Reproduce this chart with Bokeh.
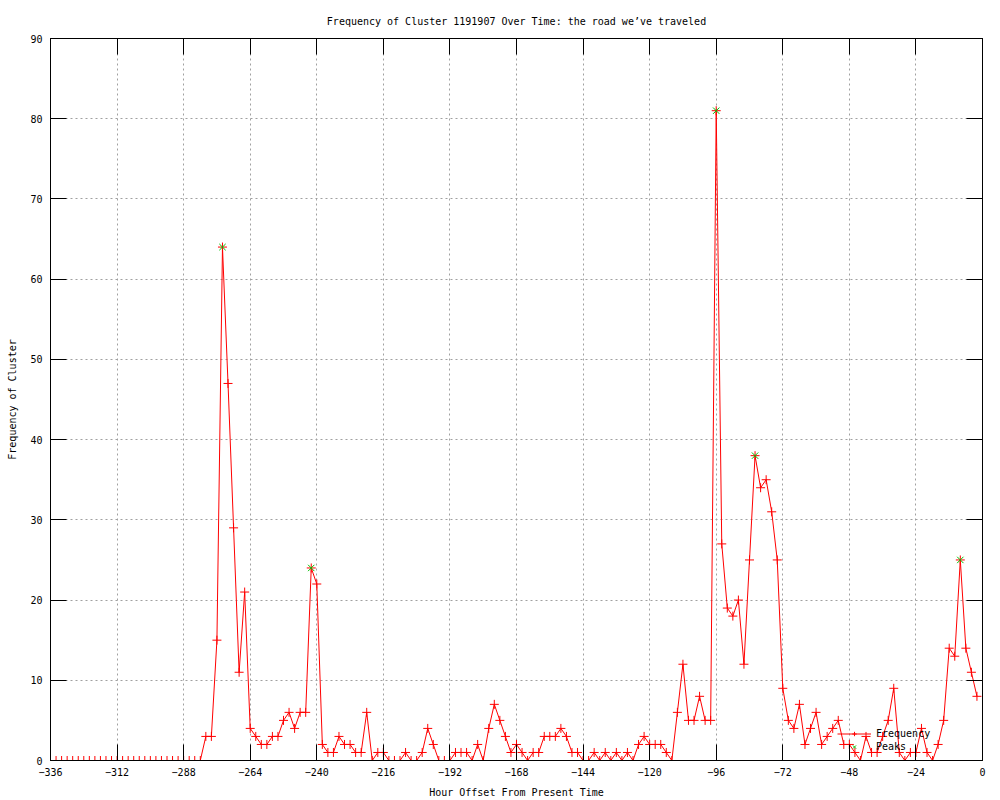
from bokeh.plotting import figure
from bokeh.models import (LinearAxis, FixedTicker, Legend, LegendItem, Range1d,
                          CustomJSTickFormatter)
from bokeh.embed import file_html
from bokeh.resources import INLINE

FONT = "DejaVu Sans Mono"

TITLE = "Frequency of Cluster 1191907 Over Time: the road we’ve traveled"
X_LABEL = "Hour Offset From Present Time"
Y_LABEL = "Frequency of Cluster"

hours = [
    -336, -334, -332, -330, -328, -326, -324, -322, -320, -318, -316, -314,
    -312, -310, -308, -306, -304, -302, -300, -298, -296, -294, -292, -290,
    -288, -286, -284, -282, -280, -278, -276, -274, -272, -270, -268, -266,
    -264, -262, -260, -258, -256, -254, -252, -250, -248, -246, -244, -242,
    -240, -238, -236, -234, -232, -230, -228, -226, -224, -222, -220, -218,
    -216, -214, -212, -210, -208, -206, -204, -202, -200, -198, -196, -194,
    -192, -190, -188, -186, -184, -182, -180, -178, -176, -174, -172, -170,
    -168, -166, -164, -162, -160, -158, -156, -154, -152, -150, -148, -146,
    -144, -142, -140, -138, -136, -134, -132, -130, -128, -126, -124, -122,
    -120, -118, -116, -114, -112, -110, -108, -106, -104, -102, -100, -98,
    -96, -94, -92, -90, -88, -86, -84, -82, -80, -78, -76, -74,
    -72, -70, -68, -66, -64, -62, -60, -58, -56, -54, -52, -50,
    -48, -46, -44, -42, -40, -38, -36, -34, -32, -30, -28, -26,
    -24, -22, -20, -18, -16, -14, -12, -10, -8, -6, -4, -2,
]

frequency = [
    0, 0, 0, 0, 0, 0, 0, 0, 0, 0, 0, 0,
    0, 0, 0, 0, 0, 0, 0, 0, 0, 0, 0, 0,
    0, 0, 0, 0, 3, 3, 15, 64, 47, 29, 11, 21,
    4, 3, 2, 2, 3, 3, 5, 6, 4, 6, 6, 24,
    22, 2, 1, 1, 3, 2, 2, 1, 1, 6, 0, 1,
    1, 0, 0, 0, 1, 0, 0, 1, 4, 2, 0, 0,
    0, 1, 1, 1, 0, 2, 0, 4, 7, 5, 3, 1,
    2, 1, 0, 1, 1, 3, 3, 3, 4, 3, 1, 1,
    0, 0, 1, 0, 1, 0, 1, 0, 1, 0, 2, 3,
    2, 2, 2, 1, 0, 6, 12, 5, 5, 8, 5, 5,
    81, 27, 19, 18, 20, 12, 25, 38, 34, 35, 31, 25,
    9, 5, 4, 7, 2, 4, 6, 2, 3, 4, 5, 2,
    2, 1, 0, 3, 1, 1, 3, 5, 9, 1, 0, 1,
    1, 4, 1, 0, 2, 5, 14, 13, 25, 14, 11, 8,
]

peak_hours = [-274, -242, -96, -82, -8]
peak_values = [64, 24, 81, 38, 25]

x_ticks = [-336, -312, -288, -264, -240, -216, -192, -168, -144, -120, -96, -72, -48, -24, 0]
y_ticks = [0, 10, 20, 30, 40, 50, 60, 70, 80, 90]

p = figure(width=1000, height=800, output_backend="svg", toolbar_location=None,
           x_range=Range1d(-336, 0), y_range=Range1d(0, 90),
           min_border_left=50, min_border_right=18, min_border_top=38,
           min_border_bottom=40, title=TITLE)

p.background_fill_color = "white"
p.border_fill_color = "white"
p.outline_line_color = "black"
p.outline_line_width = 1

p.title.text_font = FONT
p.title.text_font_size = "10px"
p.title.text_font_style = "normal"
p.title.text_color = "black"
p.title.align = "center"
p.title.standoff = 24

for ax, ticks in ((p.xaxis[0], x_ticks), (p.yaxis[0], y_ticks)):
    ax.ticker = FixedTicker(ticks=ticks)
    ax.major_tick_in = 16
    ax.major_tick_out = 0
    ax.minor_tick_in = 0
    ax.minor_tick_out = 0
    ax.axis_line_color = "black"
    ax.major_tick_line_color = "black"
    ax.major_label_text_font = FONT
    ax.major_label_text_font_size = "10px"
    ax.major_label_text_color = "black"
    ax.axis_label_text_font = FONT
    ax.axis_label_text_font_size = "10px"
    ax.axis_label_text_font_style = "normal"
    ax.axis_label_text_color = "black"

p.xaxis[0].axis_label = X_LABEL
p.xaxis[0].major_label_standoff = 7
p.xaxis[0].axis_label_standoff = 8
p.yaxis[0].axis_label = Y_LABEL
p.yaxis[0].major_label_standoff = 8
p.yaxis[0].axis_label_standoff = 9

blank = CustomJSTickFormatter(code="return '';")
right_ax = LinearAxis(ticker=FixedTicker(ticks=y_ticks), formatter=blank,
                      major_tick_in=16, major_tick_out=0, minor_tick_in=0,
                      minor_tick_out=0, axis_line_color="black",
                      major_label_standoff=0)
top_ax = LinearAxis(ticker=FixedTicker(ticks=x_ticks), formatter=blank,
                    major_tick_in=16, major_tick_out=0, minor_tick_in=0,
                    minor_tick_out=0, axis_line_color="black",
                    major_label_standoff=0)
p.add_layout(right_ax, "right")
p.add_layout(top_ax, "above")

p.xgrid.ticker = FixedTicker(ticks=x_ticks)
p.ygrid.ticker = FixedTicker(ticks=y_ticks)
for g in (p.xgrid[0], p.ygrid[0]):
    g.grid_line_color = "#a0a0a0"
    g.grid_line_dash = "2 3"
    g.grid_line_width = 1

line_r = p.line(hours, frequency, line_color="#ff0000", line_width=1)
cross_r = p.scatter(hours, frequency, marker="cross", size=9,
                    line_color="#ff0000", line_width=1)
peak_r = p.scatter(peak_hours, peak_values, marker="x", size=9,
                   line_color="#00c000", line_width=1)

legend = Legend(items=[LegendItem(label="Frequency", renderers=[line_r, cross_r]),
                       LegendItem(label="Peaks", renderers=[peak_r])],
                location=(785, 6))
legend.label_text_font = FONT
legend.label_text_font_size = "10px"
legend.label_text_color = "black"
legend.background_fill_alpha = 0
legend.border_line_alpha = 0
legend.glyph_width = 34
legend.glyph_height = 11
legend.label_height = 11
legend.spacing = 2
legend.padding = 2
legend.margin = 0
legend.label_standoff = 5
p.add_layout(legend)

open("out.html", "w").write(file_html(p, INLINE))
